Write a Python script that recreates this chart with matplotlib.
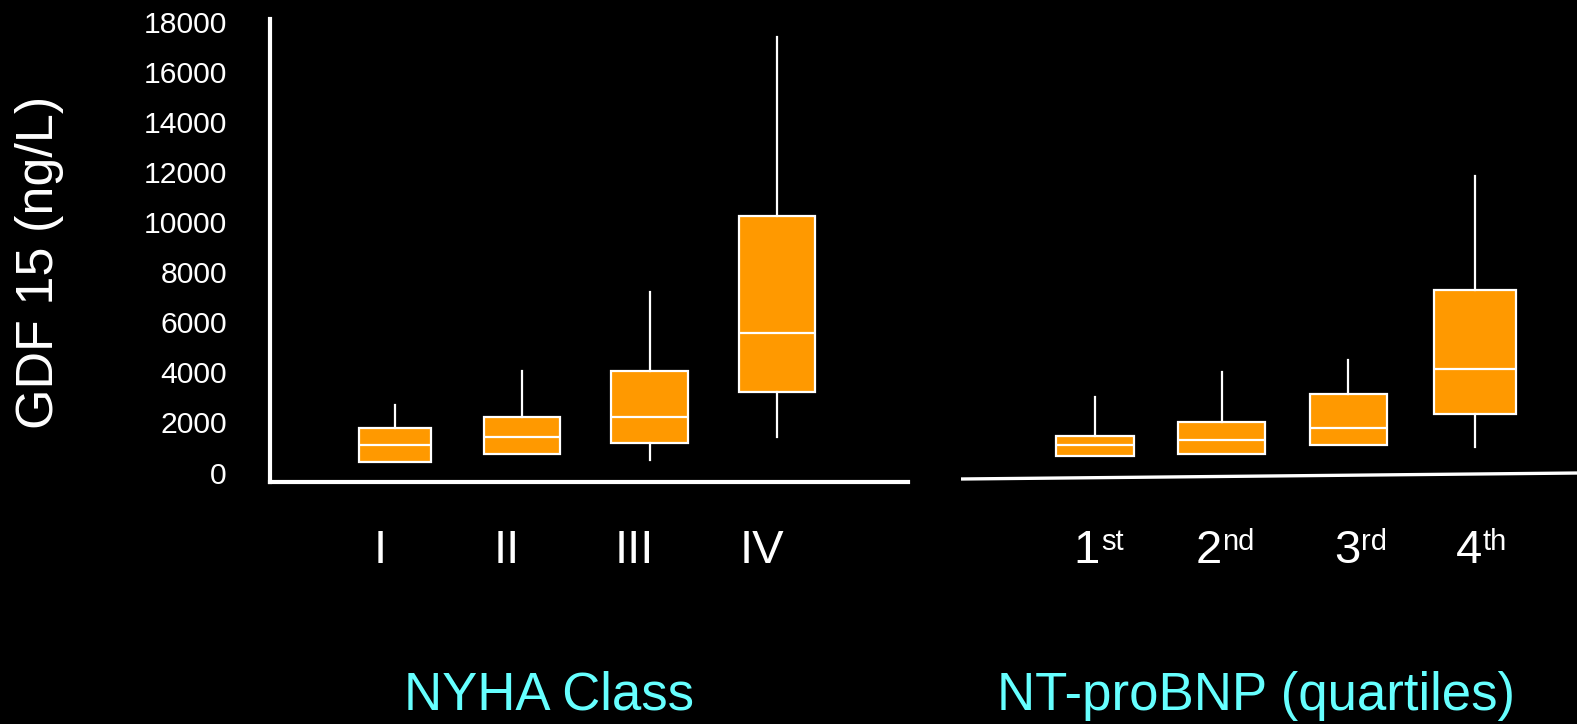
import matplotlib.pyplot as plt

plt.rcParams['font.family'] = ['Liberation Sans', 'DejaVu Sans']

# GDF-15 distribution (ng/L) by NYHA class
nyha_labels = ['I', 'II', 'III', 'IV']
nyha_low = [420, 740, 500, 1420]
nyha_q1 = [420, 740, 1180, 3220]
nyha_med = [1100, 1420, 2220, 5560]
nyha_q3 = [1780, 2220, 4060, 10260]
nyha_high = [2700, 4060, 7220, 17380]

# GDF-15 distribution (ng/L) by NT-proBNP quartile
bnp_nums = ['1', '2', '3', '4']
bnp_suffix = ['st', 'nd', 'rd', 'th']
bnp_low = [670, 740, 1090, 1010]
bnp_q1 = [670, 740, 1090, 2330]
bnp_med = [1100, 1310, 1780, 4130]
bnp_q3 = [1450, 2000, 3140, 7300]
bnp_high = [3000, 4020, 4500, 11830]

yticks = list(range(0, 18001, 2000))

W, H = 1577, 724
fig = plt.figure(figsize=(W / 100, H / 100), dpi=100, facecolor='black')

top_px, bot_px = 19, 482
ymin = (472.5 - bot_px) / 0.02504
ymax = (472.5 - top_px) / 0.02504


def px_axes(x0, x1):
    return fig.add_axes([x0 / W, 1 - bot_px / H, (x1 - x0) / W, (bot_px - top_px) / H])


def make_stats(lo, q1, med, q3, hi):
    return [dict(whislo=a, q1=b, med=c, q3=d, whishi=e, fliers=[])
            for a, b, c, d, e in zip(lo, q1, med, q3, hi)]


box_style = dict(
    patch_artist=True, showcaps=False, showfliers=False,
    boxprops=dict(facecolor='#FF9900', edgecolor='white', linewidth=1.6),
    medianprops=dict(color='white', linewidth=1.6),
    whiskerprops=dict(color='white', linewidth=1.6),
)

# left panel: NYHA class
ax1 = px_axes(270, 908)
ax1.set_facecolor('black')
pos = [1, 2, 3, 4]
ax1.bxp(make_stats(nyha_low, nyha_q1, nyha_med, nyha_q3, nyha_high),
        positions=pos, widths=[0.56, 0.6, 0.6, 0.6], **box_style)
ax1.set_xlim(0.018, 5.03)
ax1.set_ylim(ymin, ymax)
for s in ['top', 'right']:
    ax1.spines[s].set_visible(False)
for s in ['left', 'bottom']:
    ax1.spines[s].set_color('white')
    ax1.spines[s].set_linewidth(3)
ax1.set_yticks(yticks)
ax1.set_yticklabels([str(v) for v in yticks], fontsize=21.7, color='white')
ax1.tick_params(axis='y', length=0, pad=31)
ax1.set_xticks([])
tr1 = ax1.get_xaxis_transform()
for p, lab in zip(pos, nyha_labels):
    ax1.text(p - 0.12, -0.175, lab, transform=tr1, ha='center', va='baseline',
             fontsize=34, color='white')

# right panel: NT-proBNP quartiles
ax2 = px_axes(961, 1577)
ax2.set_facecolor('none')
ax2.bxp(make_stats(bnp_low, bnp_q1, bnp_med, bnp_q3, bnp_high),
        positions=pos, widths=[0.61, 0.69, 0.61, 0.64], **box_style)
ax2.set_xlim(-0.058, 4.805)
ax2.set_ylim(ymin, ymax)
for s in ax2.spines.values():
    s.set_visible(False)
ax2.set_xticks([])
ax2.set_yticks([])
ax2.plot([0, 1], [0.0065, 0.0194], transform=ax2.transAxes, color='white',
         linewidth=2.4, clip_on=False, solid_capstyle='butt')

# ordinal labels: digit to the left of the anchor, raised suffix to the right
tr2 = ax2.get_xaxis_transform()
for p, num, sfx, off in zip(pos, bnp_nums, bnp_suffix, [0.04, 0.0, 0.095, 0.056]):
    ax2.text(p + off, -0.175, num, transform=tr2, ha='right', va='baseline',
             fontsize=34, color='white')
    ax2.annotate(sfx, xy=(p + off, -0.175), xycoords=tr2, xytext=(0.5, 9.4),
                 textcoords='offset points', ha='left', va='baseline',
                 fontsize=21, color='white', annotation_clip=False)

fig.text(40 / W, 1 - 262 / H, 'GDF 15 (ng/L)', rotation=90, ha='center', va='center',
         fontsize=37.5, color='white')
fig.text(549 / W, 1 - 710 / H, 'NYHA Class', ha='center', va='baseline',
         fontsize=38, color='#66FFFF')
fig.text(1256 / W, 1 - 710 / H, 'NT-proBNP (quartiles)', ha='center', va='baseline',
         fontsize=38, color='#66FFFF')

fig.savefig('out.png', dpi=100, facecolor='black')
